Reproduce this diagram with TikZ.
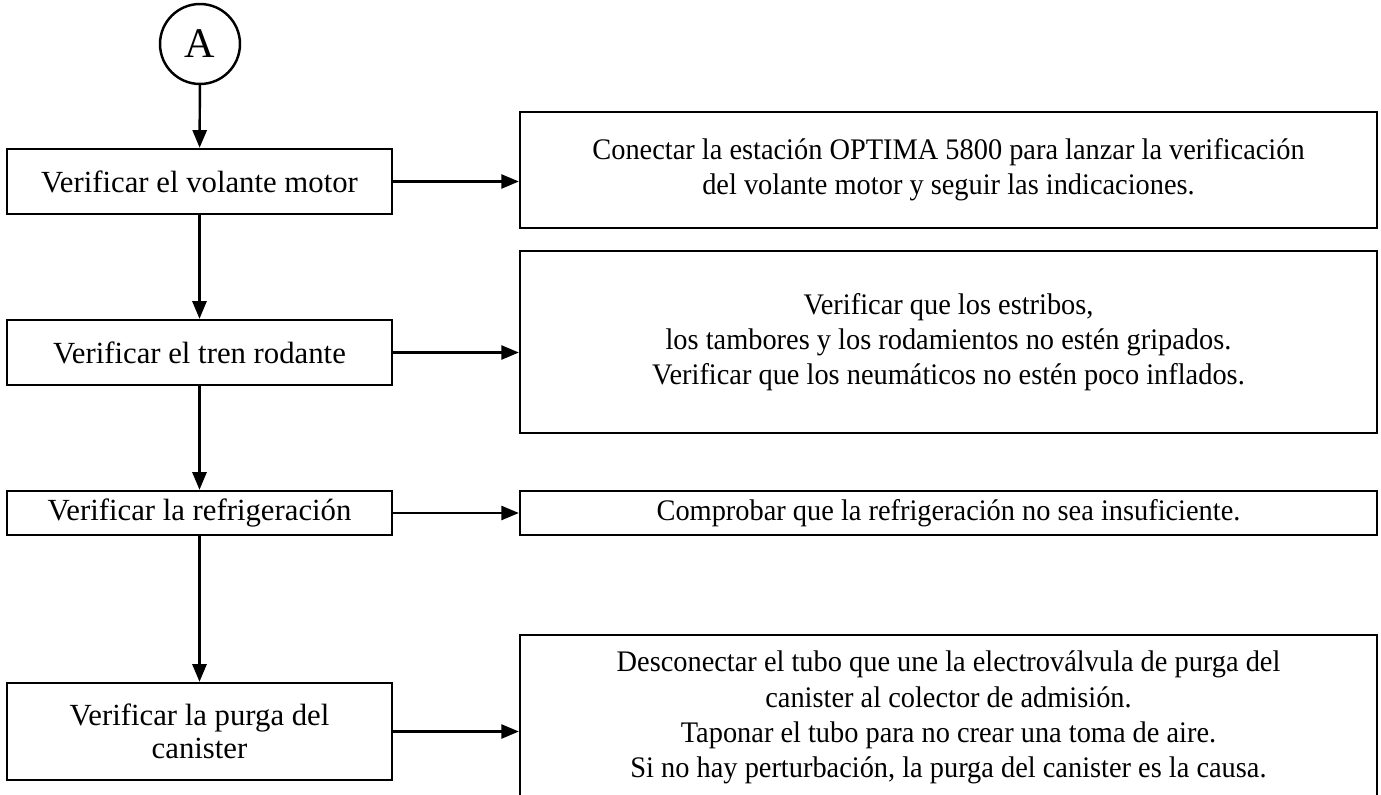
\documentclass[tikz,border=0pt]{standalone}
\usepackage{fontspec}
\setmainfont{Liberation Serif}
\newfontfamily\etroite[FakeStretch=0.95]{Liberation Serif}
\usetikzlibrary{arrows.meta, positioning, calc}

\begin{document}
\begin{tikzpicture}[x=0.02cm, y=-0.02cm, >={Triangle[length=10pt, width=8pt]}, line width=1.4pt,
    controle/.style={rectangle, draw, minimum width=7.7cm, align=center, font=\fontsize{17.5}{19}\selectfont},
    action/.style={rectangle, draw, minimum width=17.14cm, align=center, font=\etroite\fontsize{17}{20}\selectfont}]
  \useasboundingbox (0,0) rectangle (1381,794);

  \node[circle, draw, minimum size=1.6cm, font=\fontsize{24}{24}\selectfont] (A) at (200,44) {A};

  \node[controle, minimum height=1.3cm] (V1) at (199.5,181.5) {Verificar el volante motor};
  \node[controle, minimum height=1.3cm] (V2) at (199.5,352.5) {Verificar el tren rodante};
  \node[controle, minimum height=0.88cm] (V3) at (199.5,513) {Verificar la refrigeración};
  \node[controle, minimum height=1.94cm] (V4) at (199.5,731.5) {Verificar la purga del\\canister};

  \node[action, minimum height=2.32cm] (R1) at (948.5,170)
    {Conectar la estación OPTIMA 5800 para lanzar la verificación\\del volante motor y seguir las indicaciones.};
  \node[action, minimum height=3.64cm] (R2) at (948.5,342)
    {Verificar que los estribos,\\los tambores y los rodamientos no estén gripados.\\Verificar que los neumáticos no estén poco inflados.};
  \node[action, minimum height=0.88cm] (R3) at (948.5,513)
    {Comprobar que la refrigeración no sea insuficiente.};
  \node[action, minimum height=3.3cm] (R4) at (948.5,717.5)
    {Desconectar el tubo que une la electroválvula de purga del\\canister al colector de admisión.\\Taponar el tubo para no crear una toma de aire.\\Si no hay perturbación, la purga del canister es la causa.};

  \draw[->] (A) -- (V1);
  \draw[->] (V1) -- (V2);
  \draw[->] (V2) -- (V3);
  \draw[->] (V3) -- (V4);

  \draw[->] (V1.east) -- (V1.east -| R1.west);
  \draw[->] (V2.east) -- (V2.east -| R2.west);
  \draw[->] (V3.east) -- (V3.east -| R3.west);
  \draw[->] (V4.east) -- (V4.east -| R4.west);
\end{tikzpicture}
\end{document}
